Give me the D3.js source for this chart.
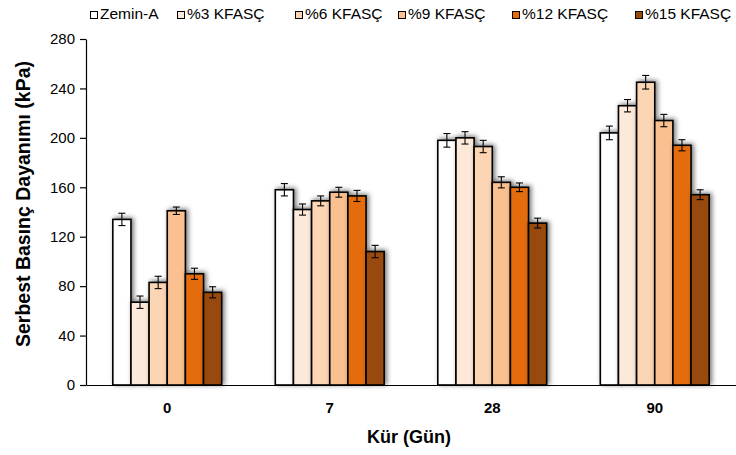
<!DOCTYPE html>
<html><head><meta charset="utf-8">
<script src="https://cdn.jsdelivr.net/npm/d3@7"></script>
<style>body{margin:0;background:#fff}svg{display:block;font-family:"Liberation Sans",Arial,sans-serif}</style>
</head><body><svg id="c" width="736" height="455"></svg>
<script>
const categories = ["0", "7", "28", "90"];
const seriesNames = ["Zemin-A", "%3 KFASÇ", "%6 KFASÇ", "%9 KFASÇ", "%12 KFASÇ", "%15 KFASÇ"];
const seriesColors = ["#ffffff", "#fde9d9", "#fcd5b5", "#fac090", "#e46c0a", "#984807"];
// values per series, across categories 0,7,28,90
const zeminA = [134, 158, 198, 204];
const kfasc3 = [67, 142, 200, 226];
const kfasc6 = [83, 149, 193, 245];
const kfasc9 = [141, 156, 164, 214];
const kfasc12 = [90, 153, 160, 194];
const kfasc15 = [75, 108, 131, 154];
const errZeminA = [5, 5, 5.5, 5.5];
const errKfasc3 = [5, 4.5, 5, 5];
const errKfasc6 = [5, 4, 5, 5.5];
const errKfasc9 = [3, 4, 4.5, 5];
const errKfasc12 = [4.5, 4.5, 3.5, 4.5];
const errKfasc15 = [4.5, 5, 4, 4];
const yTicks = [0, 40, 80, 120, 160, 200, 240, 280];

const values = [zeminA, kfasc3, kfasc6, kfasc9, kfasc12, kfasc15];
const errors = [errZeminA, errKfasc3, errKfasc6, errKfasc9, errKfasc12, errKfasc15];

const svg = d3.select("#c");
const m = {l: 86, r: 0, t: 39, b: 70};
const W = 736, H = 455;
const y = d3.scaleLinear().domain([0, 280]).range([385, 39]);
const x0 = d3.scaleBand().domain(categories).range([m.l, W]).paddingInner(0.33).paddingOuter(0.165);
const x1 = d3.scaleBand().domain(seriesNames).range([0, x0.bandwidth()]);

const defs = svg.append("defs");
const f = defs.append("filter").attr("id", "sh").attr("x", "-50%").attr("y", "-20%").attr("width", "200%").attr("height", "140%");
f.append("feDropShadow").attr("dx", 2).attr("dy", -1).attr("stdDeviation", 2.6).attr("flood-color", "#000").attr("flood-opacity", 0.55);

// bars
const rows = [];
categories.forEach((c, ci) => seriesNames.forEach((s, si) => rows.push({c, s, si, v: values[si][ci], e: errors[si][ci]})));

const g = svg.append("g");
g.selectAll("rect.bar").data(rows).join("rect").attr("class", "bar")
  .attr("x", d => x0(d.c) + x1(d.s))
  .attr("y", d => y(d.v))
  .attr("width", x1.bandwidth())
  .attr("height", d => y(0) - y(d.v))
  .attr("fill", d => seriesColors[d.si])
  .attr("stroke", "#000").attr("stroke-width", 1.6)
  .attr("filter", "url(#sh)");

// error bars
const eg = svg.append("g").attr("stroke", "#000").attr("stroke-width", 1.1);
rows.forEach(d => {
  const cx = x0(d.c) + x1(d.s) + x1.bandwidth() / 2;
  eg.append("line").attr("x1", cx).attr("x2", cx).attr("y1", y(d.v + d.e)).attr("y2", y(d.v - d.e));
  eg.append("line").attr("x1", cx - 3.5).attr("x2", cx + 3.5).attr("y1", y(d.v + d.e)).attr("y2", y(d.v + d.e));
  eg.append("line").attr("x1", cx - 3.5).attr("x2", cx + 3.5).attr("y1", y(d.v - d.e)).attr("y2", y(d.v - d.e));
});

// axes
const ya = svg.append("g").attr("transform", `translate(${m.l},0)`)
  .call(d3.axisLeft(y).tickValues(yTicks).tickSize(6).tickSizeOuter(0).tickPadding(5));
ya.select(".domain").attr("stroke", "#000").attr("stroke-width", 1.2);
ya.selectAll(".tick line").attr("stroke", "#000").attr("stroke-width", 1.2);
ya.selectAll("text").attr("font-size", 15).attr("fill", "#000").attr("font-family", "Liberation Sans, Arial, sans-serif");

const xa = svg.append("g").attr("transform", `translate(0,${y(0)})`)
  .call(d3.axisBottom(x0).tickSize(0).tickPadding(17));
xa.select(".domain").attr("stroke", "#000").attr("stroke-width", 1.2);
xa.selectAll("text").attr("font-size", 15).attr("font-weight", "bold").attr("fill", "#000").attr("font-family", "Liberation Sans, Arial, sans-serif");

// titles
svg.append("text").attr("x", (m.l + W) / 2 - 2).attr("y", 443).attr("text-anchor", "middle")
  .attr("font-size", 18).attr("font-weight", "bold").text("Kür (Gün)");
svg.append("text").attr("transform", `translate(30,${(48 + 360) / 2}) rotate(-90)`).attr("text-anchor", "middle")
  .attr("font-size", 19.5).attr("font-weight", "bold").text("Serbest Basınç Dayanımı (kPa)");

// legend
const legX = [90, 177, 295, 398, 512, 635];
const lg = svg.append("g");
seriesNames.forEach((s, i) => {
  lg.append("rect").attr("x", legX[i] + 0.5).attr("y", 11.5).attr("width", 7).attr("height", 7)
    .attr("fill", seriesColors[i]).attr("stroke", "#000").attr("stroke-width", 1);
  lg.append("text").attr("x", legX[i] + 10).attr("y", 19).attr("font-size", 15.5).text(s);
});
</script></body></html>
